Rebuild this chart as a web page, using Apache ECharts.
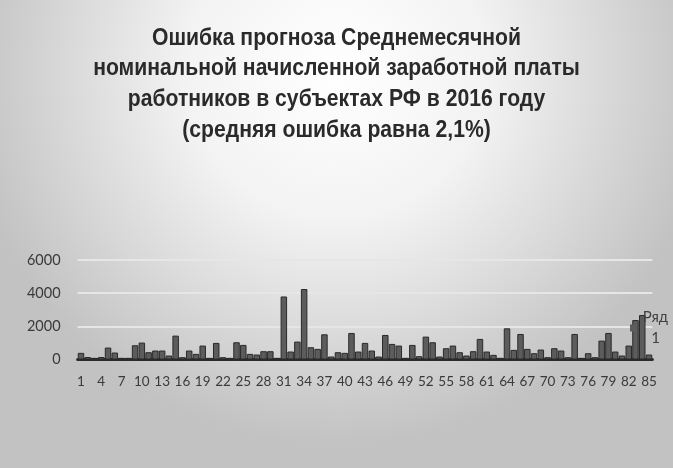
<!DOCTYPE html>
<html>
<head>
<meta charset="utf-8">
<script src="https://cdn.jsdelivr.net/npm/echarts@6/dist/echarts.min.js"></script>
<style>
  html, body { margin: 0; padding: 0; background: #ffffff; }
  #chart { width: 673px; height: 468px; }
</style>
</head>
<body>
<div id="chart"></div>
<script>
// номера субъектов РФ (1..85)
var regions = [
  '1','2','3','4','5','6','7','8','9','10','11','12','13','14','15','16','17','18','19','20',
  '21','22','23','24','25','26','27','28','29','30','31','32','33','34','35','36','37','38','39','40',
  '41','42','43','44','45','46','47','48','49','50','51','52','53','54','55','56','57','58','59','60',
  '61','62','63','64','65','66','67','68','69','70','71','72','73','74','75','76','77','78','79','80',
  '81','82','83','84','85'
];

// Ряд 1 - ошибка прогноза
var errValues = [
  400, 150, 100, 150, 720, 420, 100, 100, 860, 1020,
  440, 540, 540, 240, 1440, 140, 540, 340, 840, 100,
  1000, 140, 100, 1040, 880, 340, 300, 500, 500, 100,
  3800, 480, 1080, 4250, 740, 640, 1520, 180, 440, 400,
  1600, 480, 1000, 540, 180, 1480, 940, 840, 100, 880,
  200, 1380, 1040, 180, 680, 840, 440, 240, 500, 1240,
  480, 280, 100, 1880, 580, 1540, 640, 380, 600, 140,
  680, 540, 140, 1540, 100, 380, 140, 1140, 1600, 480,
  240, 840, 2380, 2680, 300
];

var yTicks = [0, 2000, 4000, 6000];

var titleText = 'Ошибка прогноза Среднемесячной\n' +
  'номинальной начисленной заработной платы\n' +
  'работников в субъектах РФ в 2016 году\n' +
  '(средняя ошибка равна 2,1%)';

var seriesName = 'Ряд 1';

var myChart = echarts.init(document.getElementById('chart'));

var option = {
  backgroundColor: {
    type: 'radial', x: 0.5, y: 0.15, r: 0.8,
    colorStops: [
      { offset: 0, color: '#ffffff' },
      { offset: 0.4, color: '#f3f3f3' },
      { offset: 1, color: '#c2c2c2' }
    ]
  },
  animation: false,
  // заголовок узким шрифтом: обычный жирный, сжатый по горизонтали
  graphic: [{
    type: 'text',
    x: 336.5,
    y: 23,
    scaleX: 0.92,
    style: {
      text: titleText,
      align: 'center',
      verticalAlign: 'top',
      font: 'bold 23px "Liberation Sans", Arial, sans-serif',
      lineHeight: 30.7,
      fill: '#2a2a2a'
    }
  }],
  legend: {
    data: [seriesName],
    orient: 'vertical',
    left: 625,
    top: 305,
    icon: 'rect',
    itemWidth: 7,
    itemHeight: 7,
    itemGap: 2,
    itemStyle: { borderWidth: 0, color: '#5c5c5c' },
    formatter: function () { return '{a|Ряд}\n{b|1}'; },
    textStyle: {
      color: '#404040',
      fontFamily: 'Lato, "Noto Sans", sans-serif',
      fontSize: 15,
      rich: {
        a: { fontSize: 15, lineHeight: 21, width: 27, align: 'center', color: '#404040' },
        b: { fontSize: 15, lineHeight: 21, width: 27, align: 'center', color: '#404040' }
      }
    }
  },
  grid: {
    left: 77.6,
    right: 20.6,
    top: 260,
    bottom: 108.5,
    containLabel: false
  },
  xAxis: {
    type: 'category',
    data: regions,
    boundaryGap: true,
    axisLine: { lineStyle: { color: '#2b2b2b', width: 3 } },
    axisTick: { show: false },
    axisLabel: {
      interval: 2,
      margin: 15,
      color: '#3a3a3a',
      fontFamily: 'Lato, "Noto Sans", sans-serif',
      fontSize: 13.5
    }
  },
  yAxis: {
    type: 'value',
    min: yTicks[0],
    max: yTicks[yTicks.length - 1],
    interval: 2000,
    axisLine: { show: false },
    axisTick: { show: false },
    axisLabel: {
      margin: 17,
      color: '#3a3a3a',
      fontFamily: 'Lato, "Noto Sans", sans-serif',
      fontSize: 14.5,
      formatter: function (v) { return String(v); }
    },
    splitLine: { lineStyle: { color: '#e6e6e6', width: 2 } }
  },
  series: [{
    name: seriesName,
    type: 'bar',
    data: errValues,
    barCategoryGap: '4%',
    itemStyle: {
      color: '#5c5c5c',
      borderColor: '#2a2a2a',
      borderWidth: 1
    }
  }]
};

myChart.setOption(option);
</script>
</body>
</html>
